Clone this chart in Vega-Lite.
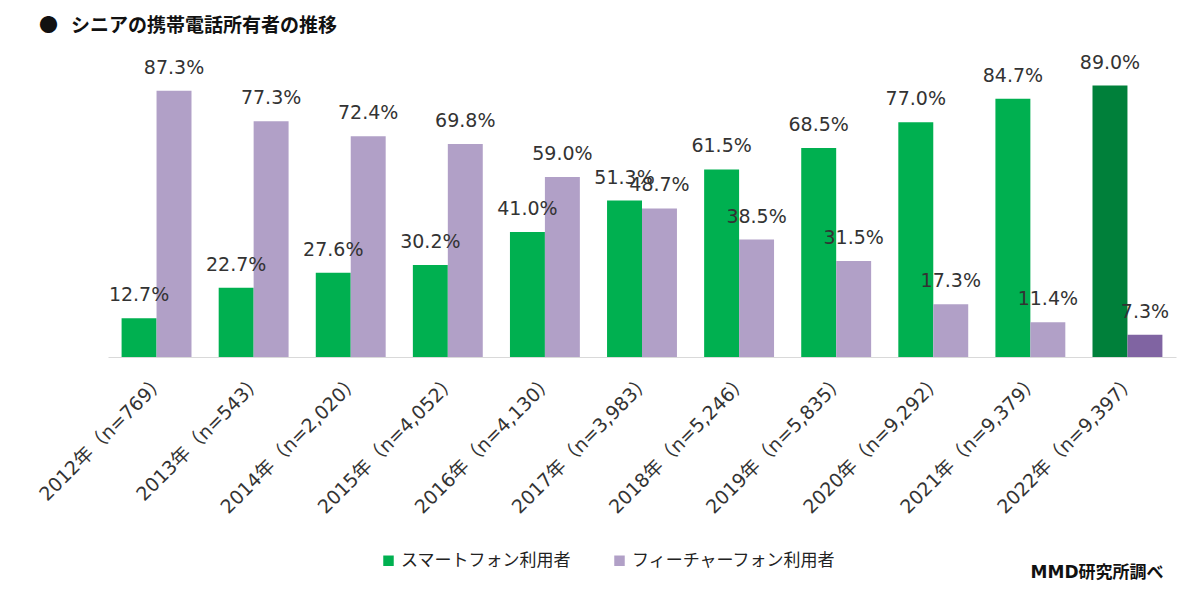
{
  "$schema": "https://vega.github.io/schema/vega-lite/v6.json",
  "width": 1068,
  "height": 305,
  "autosize": {"type": "none"},
  "padding": {"left": 108, "top": 52, "right": 24, "bottom": 242},
  "background": "white",
  "title": {
    "text": "●\u00a0\u00a0\u00a0シニアの携帯電話所有者の推移",
    "anchor": "start",
    "frame": "group",
    "dx": -69,
    "dy": -6,
    "fontSize": 19,
    "fontWeight": "bold",
    "font": "Noto Sans CJK JP",
    "color": "#111111",
    "offset": 10
  },
  "data": {
    "values": [
      {"year": "2012年（n=769）", "series": "スマートフォン利用者", "value": 12.7},
      {"year": "2012年（n=769）", "series": "フィーチャーフォン利用者", "value": 87.3},
      {"year": "2013年（n=543）", "series": "スマートフォン利用者", "value": 22.7},
      {"year": "2013年（n=543）", "series": "フィーチャーフォン利用者", "value": 77.3},
      {"year": "2014年（n=2,020）", "series": "スマートフォン利用者", "value": 27.6},
      {"year": "2014年（n=2,020）", "series": "フィーチャーフォン利用者", "value": 72.4},
      {"year": "2015年（n=4,052）", "series": "スマートフォン利用者", "value": 30.2},
      {"year": "2015年（n=4,052）", "series": "フィーチャーフォン利用者", "value": 69.8},
      {"year": "2016年（n=4,130）", "series": "スマートフォン利用者", "value": 41.0},
      {"year": "2016年（n=4,130）", "series": "フィーチャーフォン利用者", "value": 59.0},
      {"year": "2017年（n=3,983）", "series": "スマートフォン利用者", "value": 51.3},
      {"year": "2017年（n=3,983）", "series": "フィーチャーフォン利用者", "value": 48.7},
      {"year": "2018年（n=5,246）", "series": "スマートフォン利用者", "value": 61.5},
      {"year": "2018年（n=5,246）", "series": "フィーチャーフォン利用者", "value": 38.5},
      {"year": "2019年（n=5,835）", "series": "スマートフォン利用者", "value": 68.5},
      {"year": "2019年（n=5,835）", "series": "フィーチャーフォン利用者", "value": 31.5},
      {"year": "2020年（n=9,292）", "series": "スマートフォン利用者", "value": 77.0},
      {"year": "2020年（n=9,292）", "series": "フィーチャーフォン利用者", "value": 17.3},
      {"year": "2021年（n=9,379）", "series": "スマートフォン利用者", "value": 84.7},
      {"year": "2021年（n=9,379）", "series": "フィーチャーフォン利用者", "value": 11.4},
      {"year": "2022年（n=9,397）", "series": "スマートフォン利用者", "value": 89.0},
      {"year": "2022年（n=9,397）", "series": "フィーチャーフォン利用者", "value": 7.3}
    ]
  },
  "transform": [
    {"calculate": "format(datum.value, '.1f') + '%'", "as": "label"}
  ],
  "encoding": {
    "x": {
      "field": "year",
      "type": "nominal",
      "sort": null,
      "scale": {"paddingInner": 0.28, "paddingOuter": 0.14},
      "axis": {
        "title": "MMD研究所調べ",
        "titleX": 1055,
        "titleY": 215,
        "titleAlign": "right",
        "titleBaseline": "middle",
        "titleFontSize": 17,
        "titleFontWeight": "bold",
        "titleFont": "DejaVu Sans, Noto Sans CJK JP",
        "titleColor": "#111111",
        "labelAngle": -45,
        "labelFontSize": 19,
        "labelFont": "DejaVu Sans, Noto Sans CJK JP",
        "labelColor": "#333333",
        "labelPadding": 14,
        "labelLimit": 300,
        "ticks": false,
        "domainColor": "#D9D9D9",
        "domainWidth": 1,
        "grid": false
      }
    },
    "xOffset": {"field": "series", "type": "nominal", "sort": ["スマートフォン利用者", "フィーチャーフォン利用者"], "scale": {"paddingInner": 0, "paddingOuter": 0}},
    "y": {
      "field": "value",
      "type": "quantitative",
      "scale": {"domain": [0, 100], "nice": false, "zero": true},
      "axis": null
    }
  },
  "layer": [
    {
      "mark": {"type": "bar"},
      "encoding": {
        "color": {
          "field": "series",
          "type": "nominal",
          "sort": ["スマートフォン利用者", "フィーチャーフォン利用者"],
          "scale": {"domain": ["スマートフォン利用者", "フィーチャーフォン利用者"], "range": ["#00B050", "#B1A0C7"]},
          "condition": [
            {"test": "datum.year === '2022年（n=9,397）' && datum.series === 'スマートフォン利用者'", "value": "#00803A"},
            {"test": "datum.year === '2022年（n=9,397）' && datum.series === 'フィーチャーフォン利用者'", "value": "#8064A2"}
          ],
          "legend": {
            "title": null,
            "orient": "none",
            "direction": "horizontal",
            "legendX": 272,
            "legendY": 500,
            "symbolType": "square",
            "symbolSize": 110,
            "symbolStrokeWidth": 0,
            "labelFontSize": 17,
            "labelFont": "Noto Sans CJK JP",
            "labelColor": "#222222",
            "labelOffset": 4,
            "columnPadding": 40,
            "labelLimit": 400
          }
        }
      }
    },
    {
      "mark": {"type": "text", "baseline": "alphabetic", "dy": -17, "fontSize": 19, "font": "DejaVu Sans", "color": "#333333"},
      "encoding": {
        "text": {"field": "label"}
      }
    }
  ],
  "config": {"view": {"stroke": null}}
}
